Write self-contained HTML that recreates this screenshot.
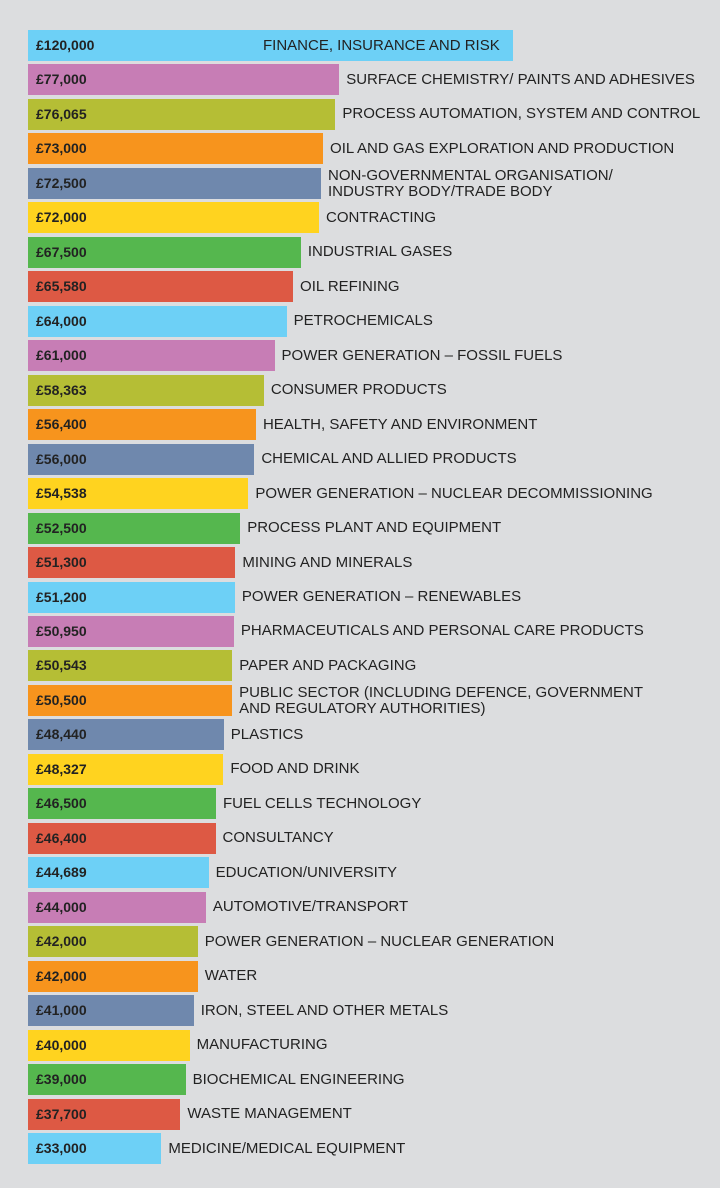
<!DOCTYPE html>
<html><head><meta charset="utf-8"><style>
body{margin:0;width:720px;height:1188px;background:#dcdddf;position:relative;overflow:hidden;font-family:"Liberation Sans",sans-serif}
.b{position:absolute;left:28px;height:31px}
.v{position:absolute;left:36px;height:31px;line-height:31px;font-weight:bold;font-size:14px;color:#222}
.l{position:absolute;font-size:15px;color:#222;line-height:15.5px;white-space:nowrap}
</style></head><body>
<script>
const d=[[120000,"FINANCE, INSURANCE AND RISK"],[77000,"SURFACE CHEMISTRY/ PAINTS AND ADHESIVES"],[76065,"PROCESS AUTOMATION, SYSTEM AND CONTROL"],[73000,"OIL AND GAS EXPLORATION AND PRODUCTION"],[72500,"NON-GOVERNMENTAL ORGANISATION/<br>INDUSTRY BODY/TRADE BODY"],[72000,"CONTRACTING"],[67500,"INDUSTRIAL GASES"],[65580,"OIL REFINING"],[64000,"PETROCHEMICALS"],[61000,"POWER GENERATION – FOSSIL FUELS"],[58363,"CONSUMER PRODUCTS"],[56400,"HEALTH, SAFETY AND ENVIRONMENT"],[56000,"CHEMICAL AND ALLIED PRODUCTS"],[54538,"POWER GENERATION – NUCLEAR DECOMMISSIONING"],[52500,"PROCESS PLANT AND EQUIPMENT"],[51300,"MINING AND MINERALS"],[51200,"POWER GENERATION – RENEWABLES"],[50950,"PHARMACEUTICALS AND PERSONAL CARE PRODUCTS"],[50543,"PAPER AND PACKAGING"],[50500,"PUBLIC SECTOR (INCLUDING DEFENCE, GOVERNMENT<br>AND REGULATORY AUTHORITIES)"],[48440,"PLASTICS"],[48327,"FOOD AND DRINK"],[46500,"FUEL CELLS TECHNOLOGY"],[46400,"CONSULTANCY"],[44689,"EDUCATION/UNIVERSITY"],[44000,"AUTOMOTIVE/TRANSPORT"],[42000,"POWER GENERATION – NUCLEAR GENERATION"],[42000,"WATER"],[41000,"IRON, STEEL AND OTHER METALS"],[40000,"MANUFACTURING"],[39000,"BIOCHEMICAL ENGINEERING"],[37700,"WASTE MANAGEMENT"],[33000,"MEDICINE/MEDICAL EQUIPMENT"]];
const c=["#6dd0f6","#c77db5","#b5be35","#f7941d","#6f88ad","#ffd31f","#55b74e","#dd5944"];
let h="";
d.forEach((r,i)=>{const t=30+i*34.47,w=r[0]*485/120000;
h+=`<div class="b" style="top:${t}px;width:${w}px;background:${c[i%8]}"></div><div class="v" style="top:${t}px">£${r[0].toLocaleString("en-GB")}</div>`;
const two=r[1].includes("<br>");const lx=i==0?263:28+w+7;
h+=`<div class="l" style="left:${lx}px;top:${t+(two?0.5:7.5)}px">${r[1]}</div>`;});
document.write(h);
</script>
</body></html>
